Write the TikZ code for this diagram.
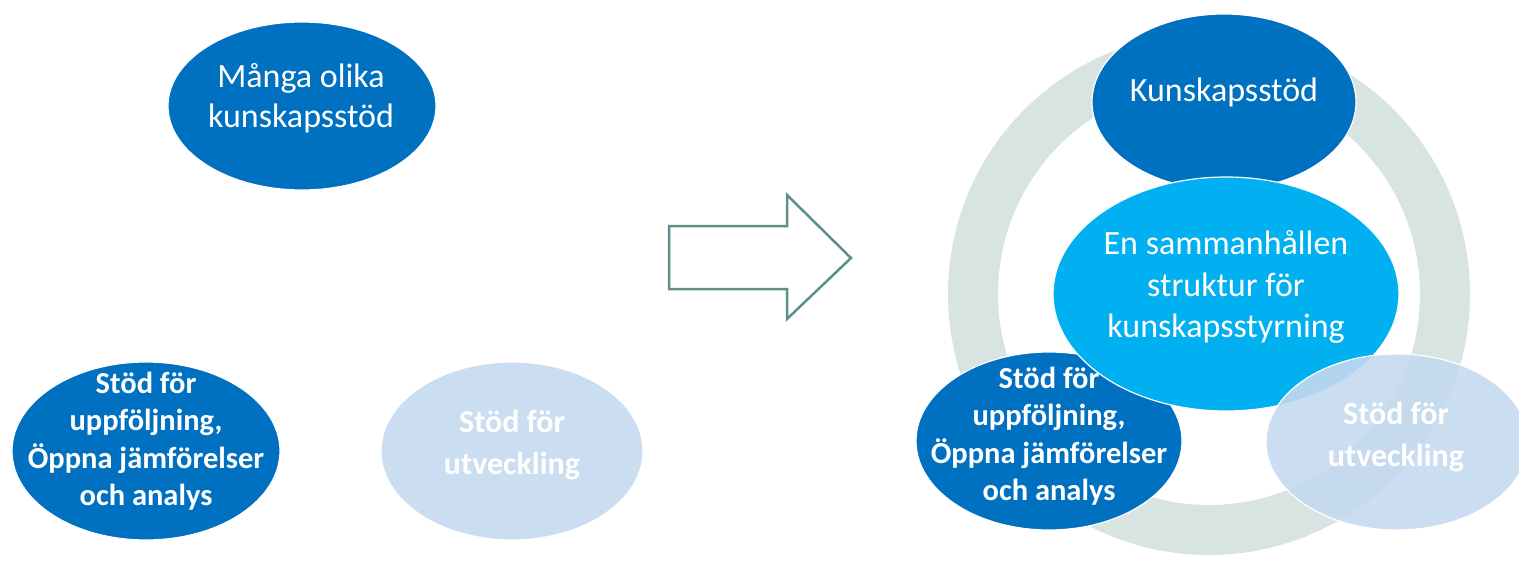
\documentclass[tikz,border=0pt]{standalone}
\usepackage{fontspec}
\setmainfont{Carlito}
\usetikzlibrary{shapes.geometric}
\definecolor{dblue}{HTML}{0070C0}
\definecolor{cyanb}{HTML}{00B0F0}
\definecolor{lblue}{HTML}{C5D9F0}
\definecolor{ringc}{HTML}{D7E4E2}
\definecolor{arrowc}{HTML}{5E8F8C}
\tikzset{
  blob/.style={ellipse, inner sep=0pt, draw=white, line width=1.2pt},
  darkblob/.style={blob, fill=dblue},
  cyanblob/.style={blob, fill=cyanb},
  lightblob/.style={blob, fill=lblue, fill opacity=0.9},
  txt/.style={text=white, align=center, inner sep=0pt},
  regtxt/.style={txt, font=\fontsize{34pt}{40pt}\selectfont},
  boldtxt/.style={txt, font=\bfseries\fontsize{30.5pt}{37.5pt}\selectfont},
  bigbold/.style={txt, font=\bfseries\fontsize{32pt}{42pt}\selectfont},
  ring/.style={draw=ringc, line width=50pt},
  blockarrow/.style={draw=arrowc, line width=2.5pt, fill=white, line join=miter}
}
\begin{document}
\begin{tikzpicture}[x=1pt,y=-1pt]
\useasboundingbox (0,0) rectangle (1519,562);
\clip (0,0) rectangle (1519,562);
% left side
\node[darkblob, minimum width=268pt, minimum height=168pt] (many) at (302,106) {};
\node[regtxt] (manyt) at (301,98) {Många olika\\kunskapsstöd};
\node[darkblob, minimum width=268pt, minimum height=178pt] (follow) at (146,451) {};
\node[boldtxt] (followt) at (146,441) {Stöd för\\uppföljning,\\Öppna jämförelser\\och analys};
\node[lightblob, minimum width=262pt, minimum height=178pt] (dev) at (512,451) {};
\node[bigbold] (devt) at (512,445) {Stöd för\\utveckling};
% arrow
\draw[blockarrow] (669,226) -- (787,226) -- (787,195) -- (851,258) -- (787,319) -- (787,289) -- (669,289) -- cycle;
% right side
\coordinate (rc) at (1209,294);
\draw[ring] (rc) circle[radius=236pt];
\node[darkblob, minimum width=264pt, minimum height=176pt] (know) at (1224,102) {};
\node[regtxt] (knowt) at (1224,92) {Kunskapsstöd};
\node[darkblob, minimum width=266pt, minimum height=178pt] (follow2) at (1049,441) {};
\node[boldtxt] (follow2t) at (1049,436) {Stöd för\\uppföljning,\\Öppna jämförelser\\och analys};
\node[cyanblob, minimum width=346pt, minimum height=234pt] (core) at (1226,294) {};
\node[regtxt, font=\fontsize{34pt}{41.5pt}\selectfont] (coret) at (1226,287) {En sammanhållen\\struktur för\\kunskapsstyrning};
\node[lightblob, minimum width=262pt, minimum height=176pt] (dev2) at (1397,442) {};
\node[bigbold] (dev2t) at (1396,437) {Stöd för\\utveckling};
\end{tikzpicture}
\end{document}
